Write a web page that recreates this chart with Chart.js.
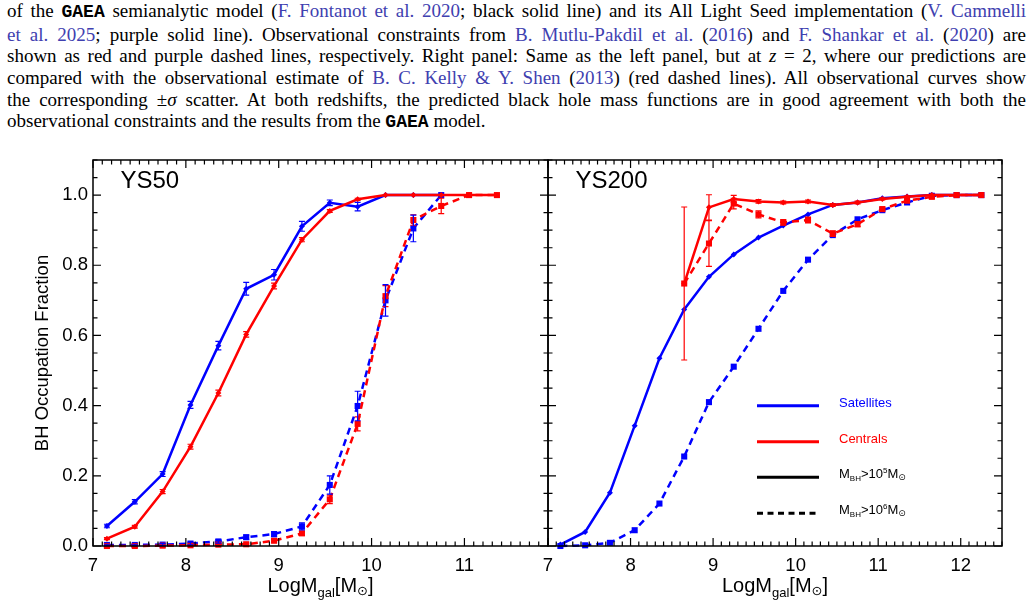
<!DOCTYPE html>
<html>
<head>
<meta charset="utf-8">
<title>BH occupation fraction</title>
<script src="https://cdn.jsdelivr.net/npm/chart.js@4.4.1/dist/chart.umd.min.js"></script>
<style>
  body { margin: 0; background: #fff; }
  #page { position: relative; width: 1034px; height: 606px; overflow: hidden; }
  #caption { position: absolute; left: 7px; top: 0px; width: 1019px; font-family: "Liberation Serif", serif; font-size: 19px; line-height: 21.67px; color: #000; }
  #caption div { text-align: justify; text-align-last: justify; }
  #caption div.last { text-align-last: left; }
  #caption a { color: #4040b0; text-decoration: none; }
  #caption tt { font-family: "Liberation Mono", monospace; font-size: 0.95em; font-weight: bold; }
  canvas { position: absolute; }
  #left { left: 0; top: 150px; }
  #right { left: 540px; top: 150px; }
</style>
</head>
<body>
<div id="page">
  <div id="caption">
    <div>of the <tt>GAEA</tt> semianalytic model (<a>F. Fontanot et al. 2020</a>; black solid line) and its All Light Seed implementation (<a>V. Cammelli</a></div>
    <div><a>et al. 2025</a>; purple solid line). Observational constraints from <a>B. Mutlu-Pakdil et al.</a> (<a>2016</a>) and <a>F. Shankar et al.</a> (<a>2020</a>) are</div>
    <div>shown as red and purple dashed lines, respectively. Right panel: Same as the left panel, but at <i>z</i> = 2, where our predictions are</div>
    <div>compared with the observational estimate of <a>B. C. Kelly &amp; Y. Shen</a> (<a>2013</a>) (red dashed lines). All observational curves show</div>
    <div>the corresponding ±<i>σ</i> scatter. At both redshifts, the predicted black hole mass functions are in good agreement with both the</div>
    <div class="last">observational constraints and the results from the <tt>GAEA</tt> model.</div>
  </div>
  <canvas id="left" width="560" height="456"></canvas>
  <canvas id="right" width="494" height="456"></canvas>
</div>
<script>
// galaxy stellar mass bins, log10(M_gal/Msun)
const massBins = [7.15, 7.45, 7.75, 8.05, 8.35, 8.65, 8.95, 9.25, 9.55, 9.85, 10.15, 10.45, 10.75, 11.05, 11.35, 11.65, 11.95, 12.25];

// YS50 (left panel)
const ys50SatM5 = [0.057, 0.126, 0.205, 0.402, 0.571, 0.733, 0.773, 0.911, 0.978, 0.967, 1.0, 1.0, 1.0];
const ys50SatM5Err = [0.005, 0.006, 0.007, 0.01, 0.012, 0.018, 0.015, 0.014, 0.008, 0.012, 0, 0, 0];
const ys50CenM5 = [0.021, 0.055, 0.155, 0.283, 0.436, 0.603, 0.741, 0.873, 0.955, 0.988, 1.0, 1.0, 1.0, 1.0, 1.0];
const ys50CenM5Err = [0.003, 0.004, 0.006, 0.007, 0.008, 0.008, 0.008, 0.006, 0.004, 0.003, 0, 0, 0, 0, 0];
const ys50SatM6 = [0.003, 0.003, 0.004, 0.007, 0.013, 0.025, 0.034, 0.056, 0.174, 0.399, 0.70, 0.905, 1.0];
const ys50SatM6Err = [0.002, 0.002, 0.003, 0.004, 0.005, 0.006, 0.007, 0.01, 0.026, 0.042, 0.045, 0.038, 0];
const ys50CenM6 = [0.0, 0.0, 0.001, 0.002, 0.004, 0.005, 0.015, 0.036, 0.133, 0.348, 0.712, 0.929, 0.969, 1.0, 1.0];
const ys50CenM6Err = [0, 0, 0, 0.001, 0.002, 0.003, 0.004, 0.006, 0.012, 0.02, 0.03, 0.015, 0.022, 0, 0];

// YS200 (right panel)
const ys200SatM5 = [0.004, 0.04, 0.152, 0.343, 0.535, 0.674, 0.767, 0.831, 0.879, 0.913, 0.945, 0.972, 0.979, 0.991, 0.996, 1.0, 1.0, 1.0];
const ys200SatM6 = [0.0, 0.002, 0.009, 0.045, 0.121, 0.255, 0.41, 0.511, 0.619, 0.727, 0.816, 0.886, 0.931, 0.957, 0.979, 0.998, 1.0, 1.0];
const ys200CenM5 = [null, null, null, null, null, 0.748, 0.965, 0.989, 0.982, 0.979, 0.982, 0.972, 0.979, 0.989, 0.995, 1.0, 1.0, 1.0];
const ys200CenM5Err = [null, null, null, null, null, 0.218, 0.036, 0.01, 0.005, 0.004, 0.004, 0.004, 0.004, 0.003, 0.002, 0, 0, 0];
const ys200CenM6 = [null, null, null, null, null, 0.748, 0.862, 0.976, 0.945, 0.922, 0.929, 0.89, 0.917, 0.96, 0.984, 0.995, 1.0, 1.0];
const ys200CenM6Err = [null, null, null, null, null, 0, 0.065, 0.015, 0.01, 0.008, 0.008, 0.008, 0.007, 0.006, 0.004, 0.002, 0, 0];

const yTicks = [0, 0.2, 0.4, 0.6, 0.8, 1.0];

const BLUE = '#0000ff';
const RED = '#ff0000';
const SANS = '"Liberation Sans", "DejaVu Sans", sans-serif';

// build {x,y} points, skipping missing bins
function series(vals, errs, color, dashed) {
  const data = [], e = [];
  vals.forEach((v, i) => {
    if (v === null) return;
    data.push({ x: massBins[i], y: v });
    e.push(errs ? (errs[i] || 0) : 0);
  });
  return {
    data: data,
    errors: e,
    borderColor: color,
    backgroundColor: color,
    borderWidth: 2.5,
    borderDash: dashed ? [7, 5] : [],
    pointStyle: dashed ? 'rect' : 'rectRot',
    pointRadius: dashed ? 4.3 : 3,
    pointBorderWidth: 0,
    tension: 0,
    clip: false
  };
}

function drawRuns(ctx, x, y, runs, center) {
  let w = 0;
  runs.forEach(r => { ctx.font = r[1] + 'px ' + SANS; w += ctx.measureText(r[0]).width; });
  let cx = center ? x - w / 2 : x;
  runs.forEach(r => {
    ctx.font = r[1] + 'px ' + SANS;
    ctx.fillText(r[0], cx, y + (r[2] || 0));
    cx += ctx.measureText(r[0]).width;
  });
}

// error bars through the chart scales
const errorBars = {
  id: 'errorBars',
  afterDatasetsDraw(chart) {
    const ctx = chart.ctx, ys = chart.scales.y;
    ctx.save();
    ctx.lineWidth = 1.2;
    chart.data.datasets.forEach((ds, i) => {
      const meta = chart.getDatasetMeta(i);
      ctx.strokeStyle = ds.borderColor;
      ds.data.forEach((p, j) => {
        const err = ds.errors[j];
        if (!err) return;
        const px = meta.data[j].x;
        const top = ys.getPixelForValue(p.y + err);
        const bot = ys.getPixelForValue(p.y - err);
        ctx.beginPath();
        ctx.moveTo(px, top); ctx.lineTo(px, bot);
        ctx.moveTo(px - 3, top); ctx.lineTo(px + 3, top);
        ctx.moveTo(px - 3, bot); ctx.lineTo(px + 3, bot);
        ctx.stroke();
      });
    });
    ctx.restore();
  }
};

// IDL-like frame with inward ticks, panel texts
const frame = {
  id: 'frame',
  afterDraw(chart, args, opts) {
    const ctx = chart.ctx, a = chart.chartArea;
    const xs = chart.scales.x, ys = chart.scales.y;
    ctx.save();
    ctx.strokeStyle = '#000';
    ctx.lineWidth = 1.5;
    ctx.strokeRect(a.left, a.top, a.right - a.left, a.bottom - a.top);
    ctx.lineWidth = 1.2;
    ctx.beginPath();
    for (let k = Math.ceil(xs.min * 10); k <= Math.floor(xs.max * 10 + 1e-6); k++) {
      const px = xs.getPixelForValue(k / 10);
      const len = k % 10 === 0 ? 8 : 4.5;
      ctx.moveTo(px, a.bottom); ctx.lineTo(px, a.bottom - len);
      ctx.moveTo(px, a.top); ctx.lineTo(px, a.top + len);
    }
    for (let k = 0; k <= Math.floor(ys.max * 20 + 1e-6); k++) {
      const py = ys.getPixelForValue(k / 20);
      const len = k % 4 === 0 ? 8 : 4.5;
      ctx.moveTo(a.left, py); ctx.lineTo(a.left + len, py);
      ctx.moveTo(a.right, py); ctx.lineTo(a.right - len, py);
    }
    ctx.stroke();

    ctx.fillStyle = '#000';
    ctx.textAlign = 'left';
    ctx.textBaseline = 'alphabetic';
    ctx.font = '24px ' + SANS;
    ctx.fillText(opts.label, a.left + 27.5, a.top + 27.5);

    // x axis title
    drawRuns(ctx, (a.left + a.right) / 2, a.bottom + 46, [['LogM', 20], ['gal', 13, 5], ['[M', 20], ['\u2299', 13, 3], [']', 20]], true);

    if (opts.yTitle) {
      ctx.save();
      ctx.translate(48, (a.top + a.bottom) / 2);
      ctx.rotate(-Math.PI / 2);
      ctx.textAlign = 'center';
      ctx.font = '18.5px ' + SANS;
      ctx.fillText(opts.yTitle, 0, 0);
      ctx.restore();
    }

    if (opts.legend) {
      const lx = a.left + 209, tx = a.left + 291;
      const rows = [
        { y: a.top + 245.7, color: BLUE, dash: [], text: [['Satellites', 13]] },
        { y: a.top + 281.7, color: RED, dash: [], text: [['Centrals', 13]] },
        { y: a.top + 317.3, color: '#000', dash: [], text: [['M', 13], ['BH', 8, 3], ['>10', 13], ['5', 8, -5], ['M', 13], ['\u2299', 9, 2]] },
        { y: a.top + 353.3, color: '#000', dash: [6, 4.5], text: [['M', 13], ['BH', 8, 3], ['>10', 13], ['6', 8, -5], ['M', 13], ['\u2299', 9, 2]] }
      ];
      rows.forEach(r => {
        ctx.strokeStyle = r.color;
        ctx.lineWidth = 3;
        ctx.setLineDash(r.dash);
        ctx.beginPath();
        ctx.moveTo(lx, r.y); ctx.lineTo(lx + 62, r.y);
        ctx.stroke();
        ctx.setLineDash([]);
        ctx.fillStyle = r.color;
        drawRuns(ctx, tx, r.y + 1, r.text, false);
      });
    }
    ctx.restore();
  }
};

function makeChart(id, xMax, datasets, showY, plug, padRight, padLeft) {
  return new Chart(document.getElementById(id), {
    type: 'line',
    data: { datasets: datasets },
    plugins: [errorBars, frame],
    options: {
      responsive: false,
      animation: false,
      events: [],
      layout: { padding: { top: 10, right: padRight, left: padLeft, bottom: 0 } },
      scales: {
        x: {
          type: 'linear',
          min: 7, max: xMax,
          grid: { display: false, drawTicks: false },
          border: { display: false },
          ticks: { stepSize: 1, includeBounds: false, padding: 9, color: '#000', font: { family: SANS, size: 18.5 } },
          afterFit: s => { s.height = 60; s.paddingLeft = 0; s.paddingRight = 0; }
        },
        y: {
          display: showY,
          min: 0, max: 1.1,
          afterBuildTicks: s => { s.ticks = yTicks.map(v => ({ value: v })); },
          grid: { display: false, drawTicks: false },
          border: { display: false },
          ticks: { padding: 5, color: '#000', font: { family: SANS, size: 18.5 }, callback: v => v.toFixed(1) },
          afterFit: s => { s.width = showY ? 93 : 0; s.paddingTop = 0; s.paddingBottom = 0; }
        }
      },
      plugins: {
        legend: { display: false },
        tooltip: { enabled: false },
        frame: plug
      }
    }
  });
}

makeChart('left', 11.9, [
  series(ys50CenM5, ys50CenM5Err, RED, false),
  series(ys50CenM6, ys50CenM6Err, RED, true),
  series(ys50SatM5, ys50SatM5Err, BLUE, false),
  series(ys50SatM6, ys50SatM6Err, BLUE, true)
], true, { label: 'YS50', yTitle: 'BH Occupation Fraction' }, 12, 0);

makeChart('right', 12.5, [
  series(ys200CenM5, ys200CenM5Err, RED, false),
  series(ys200CenM6, ys200CenM6Err, RED, true),
  series(ys200SatM5, null, BLUE, false),
  series(ys200SatM6, null, BLUE, true)
], false, { label: 'YS200', legend: true }, 32, 8);
</script>
</body>
</html>
